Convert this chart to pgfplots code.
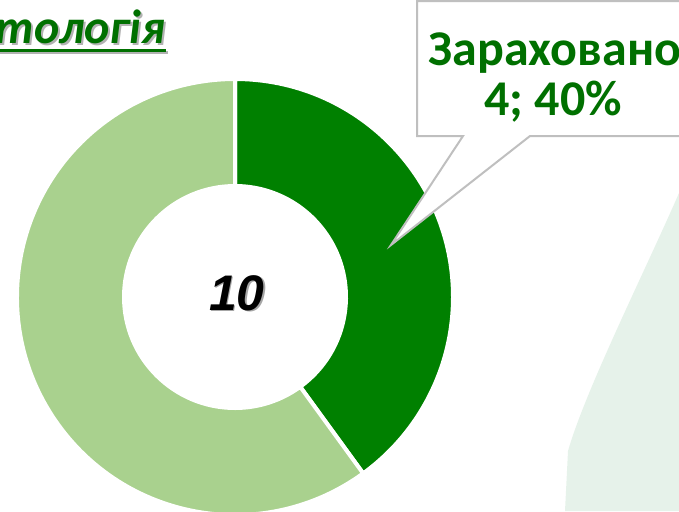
\documentclass[border=0pt]{standalone}
\usepackage{pgfplots}
\pgfplotsset{compat=1.18}
\usepackage{pgfplotstable}
\usepackage{fontspec}
\setmainfont{Carlito}
\newfontfamily\arialfont{Liberation Sans}

\definecolor{dkgreen}{RGB}{0,128,0}
\definecolor{ltgreen}{RGB}{169,209,142}
\definecolor{txtgreen}{RGB}{0,112,0}
\definecolor{leaf}{RGB}{230,242,234}
\definecolor{boxgray}{RGB}{191,191,191}

% donut data: admitted / rest
\pgfplotstableread{
label value
zarah 4
inshe 6
}\donut

\begin{document}
\begin{tikzpicture}
\pgfplotstablegetelem{0}{value}\of\donut \let\va\pgfplotsretval
\pgfplotstablegetelem{1}{value}\of\donut \let\vb\pgfplotsretval
\pgfmathsetmacro\total{\va+\vb}
\pgfmathsetmacro\aend{90-360*\va/\total}
\pgfmathsetmacro\bend{\aend-360*\vb/\total}
\begin{axis}[
    hide axis,
    scale only axis,
    width=339.5pt, height=256.5pt,
    xmin=0, xmax=679, ymin=0, ymax=513,
    clip=true,
]
% faint leaf in the background
\fill[leaf] (axis cs:679,318) .. controls (axis cs:645,240) and (axis cs:585,120) .. (axis cs:568,60) -- (axis cs:565,0) -- (axis cs:679,0) -- cycle;

% donut
\begin{scope}[shift={(axis cs:235,214)}]
\filldraw[fill=dkgreen, draw=white, line width=2pt]
  (90:109pt) arc[start angle=90, end angle=\aend, radius=109pt]
  -- (\aend:55.5pt) arc[start angle=\aend, end angle=90, radius=55.5pt] -- cycle;
\filldraw[fill=ltgreen, draw=white, line width=2pt]
  (\aend:109pt) arc[start angle=\aend, end angle=\bend, radius=109pt]
  -- (\bend:55.5pt) arc[start angle=\bend, end angle=\aend, radius=55.5pt] -- cycle;
\end{scope}

% total in the centre
\node[text=black!35, font=\arialfont\bfseries\itshape\fontsize{25}{30}\selectfont] at (axis cs:238.5,216.5) {10};
\node[text=black, font=\arialfont\bfseries\itshape\fontsize{25}{30}\selectfont] at (axis cs:237,218) {10};

% callout
\filldraw[fill=white, draw=boxgray, line width=1pt]
  (axis cs:690,510) -- (axis cs:417,510) -- (axis cs:417,375) -- (axis cs:463,375)
  -- (axis cs:391,266) -- (axis cs:530,375) -- (axis cs:690,375);
\node[anchor=base, text=txtgreen, font=\bfseries\fontsize{25}{30}\selectfont, inner sep=0pt] at (axis cs:555,446) {Зараховано};
\node[anchor=base, text=txtgreen, font=\bfseries\fontsize{25}{30}\selectfont, inner sep=0pt] at (axis cs:553,396) {4; 40\%};

% title
\node[anchor=base east, inner sep=0pt, text=black!30, font=\bfseries\itshape\fontsize{24}{28}\selectfont] at (axis cs:168,466) {тологія};
\draw[black!30, line width=1.5pt] (axis cs:0,459) -- (axis cs:168,459);
\node[anchor=base east, inner sep=0pt, text=txtgreen, font=\bfseries\itshape\fontsize{24}{28}\selectfont] at (axis cs:166,468) {тологія};
\draw[txtgreen, line width=1.5pt] (axis cs:0,461) -- (axis cs:166,461);
\end{axis}
\end{tikzpicture}
\end{document}
